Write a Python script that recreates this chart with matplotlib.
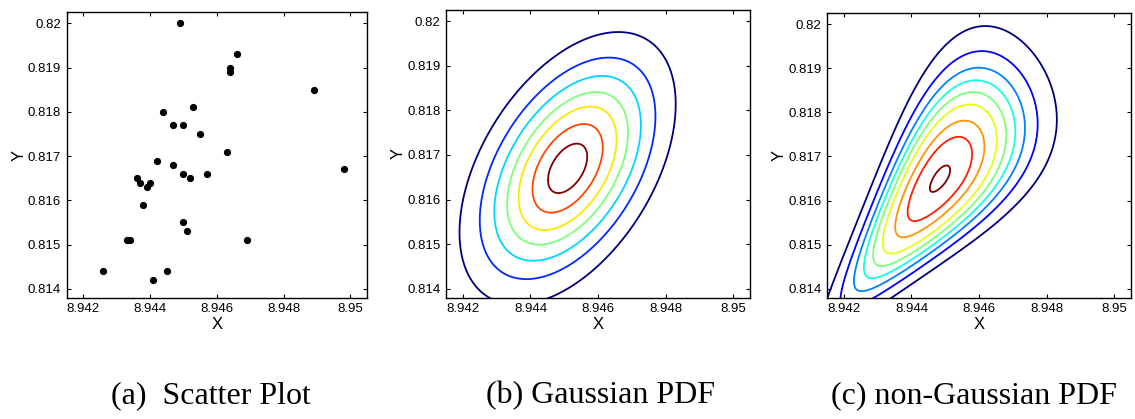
import numpy as np
import matplotlib.pyplot as plt

# scatter samples (X, Y)
x_pts = [8.9449, 8.9466, 8.9464, 8.9464, 8.9489, 8.9444, 8.9453, 8.9447, 8.9450, 8.9455,
         8.9463, 8.9442, 8.9447, 8.9450, 8.9452, 8.9457, 8.9498, 8.9436, 8.9437, 8.9440,
         8.9439, 8.9438, 8.9450, 8.9451, 8.9433, 8.9434, 8.9469, 8.9426, 8.9441, 8.9445]
y_pts = [0.8200, 0.8193, 0.8190, 0.8189, 0.8185, 0.8180, 0.8181, 0.8177, 0.8177, 0.8175,
         0.8171, 0.8169, 0.8168, 0.8166, 0.8165, 0.8166, 0.8167, 0.8165, 0.8164, 0.8164,
         0.8163, 0.8159, 0.8155, 0.8153, 0.8151, 0.8151, 0.8151, 0.8144, 0.8142, 0.8144]

x_ticks = [8.942, 8.944, 8.946, 8.948, 8.95]
x_labels = ["8.942", "8.944", "8.946", "8.948", "8.95"]
y_ticks = [0.814, 0.815, 0.816, 0.817, 0.818, 0.819, 0.82]
y_labels = ["0.814", "0.815", "0.816", "0.817", "0.818", "0.819", "0.82"]
x_lim = (8.9415, 8.9505)
y_lim = (0.8138, 0.82025)

# gaussian pdf: mean, std devs, correlation, contour radii (inner -> outer)
g_mean = (8.9451, 0.8167)
g_std = (1.0e-3, 0.955e-3)
g_rho = 0.47
g_radii = [0.58, 1.04, 1.45, 1.79, 2.17, 2.6, 3.2]

# non-gaussian pdf: peak, head stiffness, tail skew, cross width and its growth,
# and how far each contour reaches down the tail (inner -> outer)
ng_peak = (8.94485, 0.8165)
ng_head = 1.09
ng_skew = 0.0318
ng_width = 0.43
ng_flare = 0.145
ng_reach = [0.4, 1.29, 1.8, 2.32, 2.72, 3.11, 3.53, 4.1, 5.0]

captions = ["(a)  Scatter Plot", "(b) Gaussian PDF", "(c) non-Gaussian PDF"]
caption_x = [211, 601, 974]

W, H = 1135, 419
plt.rcParams["font.family"] = ["Liberation Sans", "DejaVu Sans"]
fig = plt.figure(figsize=(W / 100, H / 100), dpi=100)

def box(l, t, r, b):
    return [l / W, 1 - b / H, (r - l) / W, (b - t) / H]

def style(ax):
    ax.set_xlim(x_lim)
    ax.set_ylim(y_lim)
    ax.set_xticks(x_ticks)
    ax.set_xticklabels(x_labels)
    ax.set_yticks(y_ticks)
    ax.set_yticklabels(y_labels)
    ax.tick_params(direction="in", top=True, right=True, length=3, width=0.8,
                   labelsize=9.5, pad=4)
    for sp in ax.spines.values():
        sp.set_linewidth(1.0)
    ax.set_xlabel("X", fontsize=12, labelpad=1)
    ax.set_ylabel("Y", fontsize=12, labelpad=1)

def along_profile(s):
    # stiffer toward the head (upper right), heavier cubic tail toward lower left
    return np.where(s > 0, ng_head * s ** 2 / 2, s ** 2 / 2 + ng_skew * s ** 3)

ax1 = fig.add_axes(box(66.7, 12.3, 367, 297.7))
ax2 = fig.add_axes(box(446, 10, 750, 297.7))
ax3 = fig.add_axes(box(827, 13, 1131, 297.7))

# (a) scatter
ax1.plot(x_pts, y_pts, "o", color="black", ms=4.2, mec="black")
style(ax1)

gx = np.linspace(x_lim[0] - 0.001, x_lim[1] + 0.001, 600)
gy = np.linspace(y_lim[0] - 0.001, y_lim[1] + 0.001, 600)
X, Y = np.meshgrid(gx, gy)

# (b) gaussian
dx = (X - g_mean[0]) / g_std[0]
dy = (Y - g_mean[1]) / g_std[1]
q = (dx ** 2 - 2 * g_rho * dx * dy + dy ** 2) / (1 - g_rho ** 2)
Z = np.exp(-0.5 * q)
r = np.array(g_radii[::-1])
g_levels = np.exp(-0.5 * r ** 2)
ax2.contour(X, Y, Z, levels=g_levels,
            colors=plt.cm.jet(np.linspace(0, 1, len(g_levels))), linewidths=1.3)
style(ax2)

# (c) non-gaussian: skewed along the diagonal, cross width growing toward the head
u = (X - ng_peak[0]) / 1e-3
v = (Y - ng_peak[1]) / 1e-3
s = (u + v) / np.sqrt(2)
t = (v - u) / np.sqrt(2)
w = ng_width * np.exp(ng_flare * s)
ell = along_profile(s) + (t / w) ** 2 / 2
Z2 = np.exp(-ell)
ng_levels = np.exp(-along_profile(-np.array(ng_reach[::-1])))
ax3.contour(X, Y, Z2, levels=ng_levels,
            colors=plt.cm.jet(np.linspace(0, 1, len(ng_levels))), linewidths=1.3)
style(ax3)

for cap, cx in zip(captions, caption_x):
    fig.text(cx / W, 1 - 403 / H, cap, ha="center", va="baseline",
             fontsize=23, family="Liberation Serif")

fig.savefig("out.png", dpi=100)
